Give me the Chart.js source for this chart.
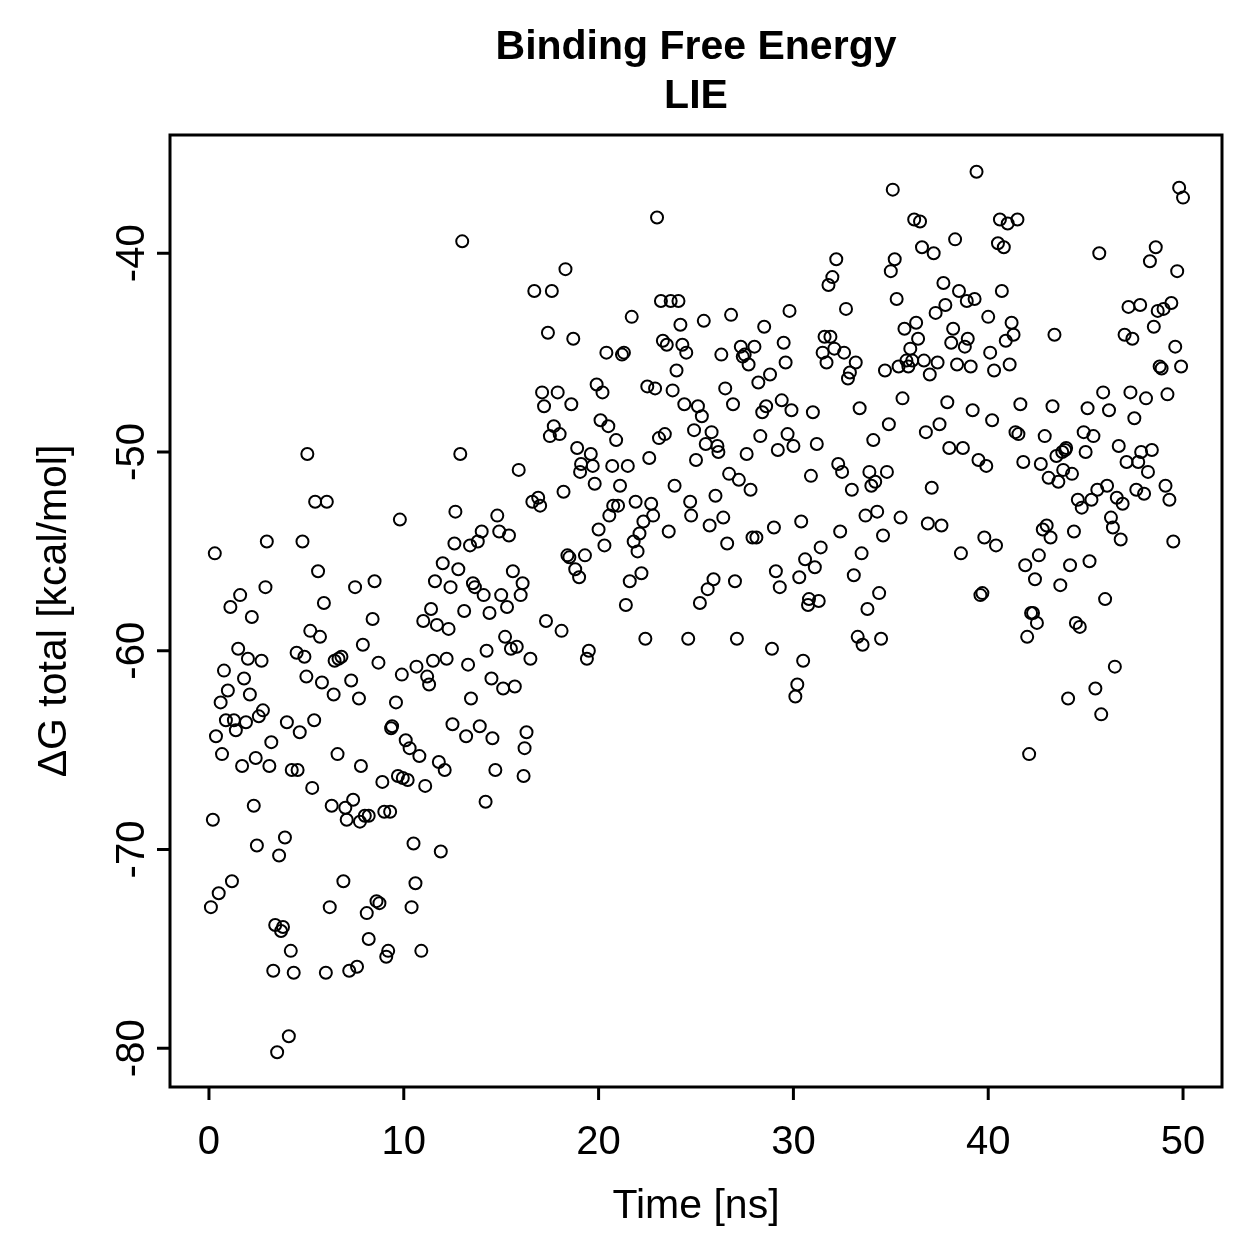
<!DOCTYPE html>
<html>
<head>
<meta charset="utf-8">
<script src="https://cdn.jsdelivr.net/npm/chart.js@4.4.1/dist/chart.umd.min.js"></script>
<style>
  html, body { margin: 0; padding: 0; background: #fff; }
  canvas { display: block; }
</style>
</head>
<body>
<canvas id="lieChart" width="1259" height="1259"></canvas>
<script>
// simulation time (ns) and total binding free energy (kcal/mol)
const timeNs = [
  0.1, 0.2, 0.3, 0.36, 0.5, 0.6, 0.67, 0.77, 0.87, 0.97, 1.1, 1.18, 1.28, 1.38, 1.5, 1.6, 1.7, 1.8, 1.9, 2.0,
  2.1, 2.2, 2.3, 2.4, 2.46, 2.56, 2.7, 2.77, 2.9, 2.97, 3.1, 3.2, 3.3, 3.4, 3.5, 3.6, 3.7, 3.8, 3.9, 4.0,
  4.1, 4.2, 4.25, 4.35, 4.5, 4.55, 4.66, 4.8, 4.9, 5.0, 5.05, 5.2, 5.3, 5.4, 5.45, 5.6, 5.7, 5.8, 5.9, 6.0,
  6.05, 6.2, 6.3, 6.4, 6.45, 6.6, 6.65, 6.8, 6.9, 7.0, 7.07, 7.2, 7.3, 7.4, 7.5, 7.6, 7.7, 7.8, 7.75, 7.9,
  8.0, 8.1, 8.2, 8.2, 8.4, 8.5, 8.6, 8.7, 8.75, 8.9, 9.0, 9.1, 9.2, 9.3, 9.35, 9.4, 9.6, 9.7, 9.8, 9.9,
  9.95, 10.1, 10.2, 10.3, 10.4, 10.5, 10.6, 10.65, 10.8, 10.9, 11.0, 11.1, 11.2, 11.3, 11.4, 11.5, 11.6, 11.7, 11.8, 11.9,
  12.0, 12.1, 12.2, 12.3, 12.4, 12.5, 12.6, 12.65, 12.8, 12.9, 13.0, 13.1, 13.2, 13.3, 13.4, 13.45, 13.55, 13.65, 13.8, 13.9,
  14.0, 14.1, 14.2, 14.25, 14.4, 14.5, 14.55, 14.7, 14.8, 14.9, 15.0, 15.1, 15.2, 15.3, 15.4, 15.5, 15.6, 15.7, 15.8, 15.9,
  16.0, 16.1, 16.2, 16.15, 16.3, 16.5, 16.6, 16.7, 16.9, 17.0, 17.1, 17.2, 17.3, 17.4, 17.5, 17.6, 17.7, 17.9, 18.0, 18.1,
  18.2, 18.3, 18.4, 18.5, 18.6, 18.7, 18.8, 18.9, 19.0, 19.05, 19.1, 19.3, 19.4, 19.5, 19.6, 19.7, 19.8, 19.9, 20.0, 20.1,
  20.2, 20.3, 20.4, 20.5, 20.55, 20.7, 20.75, 20.9, 21.0, 21.1, 21.2, 21.3, 21.4, 21.5, 21.6, 21.7, 21.8, 21.9, 22.0, 22.1,
  22.2, 22.3, 22.4, 22.5, 22.6, 22.7, 22.8, 22.9, 23.0, 23.1, 23.2, 23.3, 23.4, 23.5, 23.6, 23.7, 23.8, 23.9, 24.0, 24.1,
  24.2, 24.3, 24.4, 24.5, 24.6, 24.7, 24.75, 24.9, 25.0, 25.1, 25.2, 25.3, 25.4, 25.5, 25.6, 25.7, 25.8, 25.9, 26.0, 26.1,
  26.15, 26.3, 26.4, 26.5, 26.6, 26.7, 26.8, 26.9, 27.0, 27.1, 27.2, 27.3, 27.4, 27.5, 27.6, 27.7, 27.8, 27.9, 28.0, 28.1,
  28.2, 28.3, 28.4, 28.5, 28.6, 28.8, 28.9, 29.0, 29.1, 29.2, 29.3, 29.4, 29.5, 29.6, 29.7, 29.8, 29.9, 30.0, 30.1, 30.2,
  30.3, 30.4, 30.5, 30.6, 30.75, 30.8, 30.9, 31.0, 31.1, 31.2, 31.3, 31.4, 31.5, 31.6, 31.7, 31.8, 31.9, 32.0, 32.1, 32.2,
  32.3, 32.4, 32.5, 32.6, 32.7, 32.8, 32.9, 33.0, 33.1, 33.2, 33.3, 33.4, 33.5, 33.55, 33.7, 33.8, 33.9, 34.0, 34.1, 34.2,
  34.3, 34.4, 34.5, 34.6, 34.7, 34.8, 34.9, 35.0, 35.1, 35.2, 35.3, 35.4, 35.5, 35.6, 35.7, 35.8, 35.9, 36.0, 36.1, 36.2,
  36.3, 36.4, 36.5, 36.6, 36.7, 36.8, 36.9, 37.0, 37.1, 37.2, 37.3, 37.4, 37.5, 37.6, 37.7, 37.8, 37.9, 38.0, 38.1, 38.2,
  38.3, 38.4, 38.5, 38.6, 38.7, 38.8, 38.9, 38.95, 39.1, 39.2, 39.3, 39.4, 39.5, 39.6, 39.7, 39.8, 39.9, 40.0, 40.1, 40.2,
  40.3, 40.4, 40.5, 40.6, 40.7, 40.8, 40.9, 41.0, 41.1, 41.2, 41.3, 41.4, 41.5, 41.55, 41.65, 41.8, 41.9, 42.0, 42.1, 42.2,
  42.3, 42.4, 42.5, 42.6, 42.7, 42.8, 42.9, 43.0, 43.1, 43.2, 43.3, 43.4, 43.5, 43.6, 43.7, 43.8, 43.85, 43.95, 44.0, 44.1,
  44.2, 44.3, 44.4, 44.5, 44.6, 44.7, 44.8, 44.9, 45.0, 45.1, 45.2, 45.3, 45.4, 45.5, 45.6, 45.7, 45.8, 45.9, 46.0, 46.1,
  46.2, 46.3, 46.4, 46.5, 46.6, 46.7, 46.8, 46.9, 47.0, 47.1, 47.2, 47.3, 47.4, 47.5, 47.6, 47.7, 47.8, 47.85, 48.0, 48.1,
  48.2, 48.3, 48.4, 48.5, 48.6, 48.7, 48.8, 48.9, 49.0, 49.1, 49.2, 49.3, 49.4, 49.5, 49.6, 49.7, 49.8, 49.9, 50.0
];
const deltaG = [
  -72.9, -68.5, -55.1, -64.3, -72.2, -62.6, -65.2, -61.0, -63.5, -62.0, -57.8, -71.6, -63.5, -64.0, -59.9, -57.2, -65.8, -61.4, -63.6, -60.4,
  -62.2, -58.3, -67.8, -65.4, -69.8, -63.3, -60.5, -63.0, -56.8, -54.5, -65.8, -64.6, -76.1, -73.8, -80.2, -70.3, -74.1, -73.9, -69.4, -63.6,
  -79.4, -75.1, -66.0, -76.2, -60.1, -66.0, -64.1, -54.5, -60.3, -61.3, -50.1, -59.0, -66.9, -63.5, -52.5, -56.0, -59.3, -61.6, -57.6, -76.2,
  -52.5, -72.9, -67.8, -62.2, -60.5, -65.2, -60.4, -60.3, -71.6, -67.9, -68.5, -76.1, -61.5, -67.5, -56.8, -75.9, -62.4, -65.8, -68.6, -59.7,
  -68.3, -73.2, -68.3, -74.5, -58.4, -56.5, -72.6, -60.6, -72.7, -66.6, -68.1, -75.4, -75.1, -68.1, -63.9, -63.8, -62.6, -66.3, -53.4, -61.2,
  -66.4, -64.5, -66.5, -64.9, -72.9, -69.7, -71.7, -60.8, -65.3, -75.1, -58.5, -66.8, -61.3, -61.7, -57.9, -60.5, -56.5, -58.7, -65.6, -70.1,
  -55.6, -66.0, -60.4, -58.9, -56.8, -63.7, -54.6, -53.0, -55.9, -50.1, -39.4, -58.0, -64.3, -60.7, -54.7, -62.4, -56.6, -56.8, -54.5, -63.8,
  -54.0, -57.2, -67.6, -60.0, -58.1, -61.4, -64.4, -66.0, -53.2, -54.0, -57.2, -61.9, -59.3, -57.8, -54.2, -59.9, -56.0, -61.8, -59.8, -50.9,
  -57.2, -56.6, -64.9, -66.3, -64.1, -60.4, -52.5, -41.9, -52.3, -52.7, -47.0, -47.7, -58.5, -44.0, -49.2, -41.9, -48.7, -47.0, -49.1, -59.0,
  -52.0, -40.8, -55.2, -55.3, -47.6, -44.3, -55.9, -49.8, -56.3, -51.0, -50.6, -55.2, -60.4, -60.0, -50.1, -50.7, -51.6, -46.6, -53.9, -48.4,
  -47.0, -54.7, -45.0, -48.7, -53.2, -50.7, -52.7, -49.4, -52.7, -51.7, -45.1, -45.0, -57.7, -50.7, -56.5, -43.2, -54.5, -52.5, -55.0, -54.1,
  -56.1, -53.5, -59.4, -46.7, -50.3, -52.6, -53.2, -46.8, -38.2, -49.3, -42.4, -44.4, -49.1, -44.6, -54.0, -42.4, -46.9, -51.7, -45.9, -42.4,
  -43.6, -44.6, -47.6, -45.0, -59.4, -52.5, -53.2, -48.9, -50.4, -47.7, -57.6, -48.2, -43.4, -49.6, -56.9, -53.7, -49.0, -56.4, -52.2, -49.7,
  -50.0, -45.1, -53.3, -46.8, -54.6, -51.1, -43.1, -47.6, -56.5, -59.4, -51.4, -44.7, -45.2, -45.1, -50.1, -45.6, -51.9, -54.3, -44.7, -54.3,
  -46.5, -49.2, -48.0, -43.7, -47.7, -46.1, -59.9, -53.8, -56.0, -49.9, -56.8, -47.4, -44.5, -45.5, -49.1, -42.9, -47.9, -49.7, -62.3, -61.7,
  -56.3, -53.5, -60.5, -55.4, -57.7, -57.4, -51.2, -48.0, -55.8, -49.6, -57.5, -54.8, -45.0, -44.2, -45.5, -41.6, -44.2, -41.2, -44.8, -40.3,
  -50.6, -54.0, -51.0, -45.0, -42.8, -46.3, -46.0, -51.9, -56.2, -45.5, -59.3, -47.8, -55.1, -59.7, -53.2, -57.9, -51.0, -51.7, -49.4, -51.5,
  -53.0, -57.1, -59.4, -54.2, -45.9, -51.0, -48.6, -40.9, -36.8, -40.3, -42.3, -45.7, -53.3, -47.3, -43.8, -45.4, -45.7, -44.8, -45.4, -38.3,
  -43.5, -44.3, -38.4, -39.7, -45.4, -49.0, -53.6, -46.1, -51.8, -40.0, -43.0, -45.5, -48.6, -53.7, -41.5, -42.6, -47.5, -49.8, -44.5, -43.8,
  -39.3, -45.6, -41.9, -55.1, -49.8, -44.7, -42.4, -44.3, -45.7, -47.9, -42.3, -35.9, -50.4, -57.2, -57.1, -54.3, -50.7, -43.2, -45.0, -48.4,
  -45.9, -54.7, -39.5, -38.3, -41.9, -39.7, -44.4, -38.5, -45.6, -43.5, -44.1, -49.0, -38.3, -49.1, -47.6, -50.5, -55.7, -59.3, -65.2, -58.1,
  -58.1, -56.4, -58.6, -55.2, -50.6, -53.9, -49.2, -53.7, -51.3, -54.3, -47.7, -44.1, -50.2, -51.5, -56.7, -50.0, -50.9, -49.9, -49.8, -62.4,
  -55.7, -51.1, -54.0, -58.6, -52.4, -58.8, -52.8, -49.0, -50.0, -47.8, -55.5, -52.4, -49.2, -61.9, -51.9, -40.0, -63.2, -47.0, -57.4, -51.7,
  -47.9, -53.3, -53.8, -60.8, -52.3, -49.7, -54.4, -52.6, -44.1, -50.5, -42.7, -47.0, -44.3, -48.3, -51.9, -50.5, -42.6, -50.0, -52.1, -47.3,
  -51.0, -40.4, -49.9, -43.7, -39.7, -42.9, -45.7, -45.8, -42.8, -51.7, -47.1, -52.4, -42.5, -54.5, -44.7, -40.9, -36.7, -45.7, -37.2
];
const xTicks = [0, 10, 20, 30, 40, 50];
const yTicks = [-80, -70, -60, -50, -40];
const titleLines = ['Binding Free Energy', 'LIE'];
const xTitle = 'Time [ns]';
const yTitle = 'ΔG total [kcal/mol]';

const FONT = '"Liberation Sans", Arial, Helvetica, sans-serif';

// R-style frame, ticks and labels drawn on top of the chart area
const baseAxes = {
  id: 'baseAxes',
  afterDraw(chart) {
    const { ctx, chartArea: a, scales } = chart;
    const xs = scales.x, ys = scales.y;
    ctx.save();
    ctx.strokeStyle = '#000';
    ctx.fillStyle = '#000';
    ctx.lineWidth = 3;
    ctx.strokeRect(a.left, a.top, a.right - a.left, a.bottom - a.top);

    // x axis
    ctx.font = '40px ' + FONT;
    ctx.textAlign = 'center';
    ctx.textBaseline = 'alphabetic';
    xTicks.forEach(v => {
      const px = xs.getPixelForValue(v);
      ctx.beginPath();
      ctx.moveTo(px, a.bottom);
      ctx.lineTo(px, a.bottom + 13);
      ctx.stroke();
      ctx.fillText(String(v), px, 1154);
    });

    // y axis, labels turned like R's las = 0
    yTicks.forEach(v => {
      const py = ys.getPixelForValue(v);
      ctx.beginPath();
      ctx.moveTo(a.left, py);
      ctx.lineTo(a.left - 13, py);
      ctx.stroke();
      ctx.save();
      ctx.translate(144, py);
      ctx.rotate(-Math.PI / 2);
      ctx.fillText(String(v), 0, 0);
      ctx.restore();
    });

    // axis titles
    ctx.font = '41px ' + FONT;
    ctx.fillText(xTitle, (a.left + a.right) / 2, 1218);
    ctx.save();
    ctx.translate(66, (a.top + a.bottom) / 2);
    ctx.rotate(-Math.PI / 2);
    ctx.fillText(yTitle, 0, 0);
    ctx.restore();

    // main title
    ctx.font = 'bold 41px ' + FONT;
    ctx.fillText(titleLines[0], (a.left + a.right) / 2, 59);
    ctx.fillText(titleLines[1], (a.left + a.right) / 2, 108);
    ctx.restore();
  }
};

const points = timeNs.map((t, i) => ({ x: t, y: deltaG[i] }));

new Chart(document.getElementById('lieChart'), {
  type: 'scatter',
  data: {
    datasets: [{
      label: 'LIE',
      data: points,
      pointStyle: 'circle',
      pointRadius: 6,
      pointHoverRadius: 6,
      pointBorderWidth: 2,
      borderWidth: 2,
      borderColor: '#000',
      backgroundColor: 'rgba(0,0,0,0)'
    }]
  },
  options: {
    responsive: false,
    animation: false,
    devicePixelRatio: 1,
    layout: { padding: { left: 170, top: 135, right: 37, bottom: 172 } },
    scales: {
      x: { type: 'linear', min: -2, max: 52, display: false },
      y: { type: 'linear', min: -81.95, max: -34.05, display: false }
    },
    plugins: {
      legend: { display: false },
      tooltip: { enabled: false }
    }
  },
  plugins: [baseAxes]
});
</script>
</body>
</html>
